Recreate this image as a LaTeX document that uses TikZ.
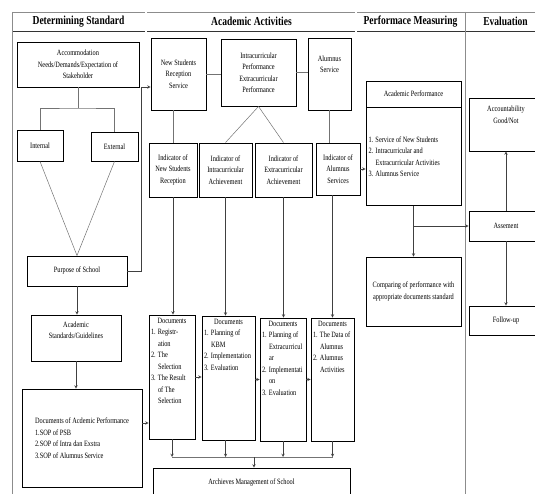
\documentclass[tikz,border=0pt]{standalone}
\usepackage{fontspec}
\setmainfont{Liberation Serif}[FakeStretch=0.78]
\usetikzlibrary{positioning, arrows}

\newcommand{\num}[1]{\makebox[7pt][l]{#1}}
\newcommand{\ind}{\hspace*{7pt}}

\begin{document}
\begin{tikzpicture}[
    x=1pt, y=-1pt, >=stealth,
    every node/.style={font=\fontsize{8.1}{11.5}\selectfont, inner sep=2pt},
    box/.style={draw, fill=white, line width=0.9pt, align=center},
    head/.style={font=\bfseries\fontsize{12.2}{14}\selectfont},
    lane/.style={draw=black!45, line width=0.6pt},
    link/.style={draw=black!55, line width=0.5pt},
    flow/.style={draw=black!75, line width=0.5pt, ->}
]

    \useasboundingbox (0,0) rectangle (535,494);
    \clip (0,0) rectangle (535,494);

    % lanes
    \draw[lane] (12,12) -- (535,12);
    \draw[lane, draw=black!80, line width=0.8pt] (12,31) -- (535,31);
    \draw[lane] (12,12) -- (12,494);
    \draw[lane, double, double distance=1.2pt] (146,12) -- (146,494);
    \draw[lane, double, double distance=1.2pt] (356,12) -- (356,494);
    \draw[lane] (465,12) -- (465,494);

    \node[head] (hstd) at (78.5,21.5) {Determining Standard};
    \node[head] (hact) at (251.5,21.5) {Academic Activities};
    \node[head] (hmeas) at (410.5,21.5) {Performace Measuring};
    \node[head] (heval) at (505.5,21.5) {Evaluation};

    % determining standard
    \node[box, minimum width=122, minimum height=45] (accom) at (78,64.5)
        {Accommodation\\Needs/Demands/Expectation of\\Stakeholder};
    \node[box, minimum width=46, minimum height=31] (internal) at (40,145.5) {Internal};
    \node[box, minimum width=47, minimum height=29] (external) at (114.5,146.5) {External};
    \node[box, minimum width=100, minimum height=30] (purpose) at (77,271) {Purpose of School};
    \node[box, minimum width=90, minimum height=46] (standards) at (76,338)
        {Academic\\Standards/Guidelines\\[4pt]};
    \node[box, minimum width=120, minimum height=98, align=left] (docsacad) at (82,438)
        {Documents of Acdemic Performance\\1.SOP of PSB\\2.SOP of Intra dan Exstra\\3.SOP of Alumnus Service};

    \coordinate (split) at (78,108);
    \coordinate (riser) at (141.5,0);

    \draw[link] (accom.south) -- (split);
    \draw[link] (internal.north) |- (split) -| (external.north);
    \draw[link] (internal.south) -- (purpose.north);
    \draw[link] (external.south) -- (purpose.north);
    \draw[flow] (purpose.south) -- (purpose.south |- standards.north);
    \draw[flow] (standards.south) -- (standards.south |- docsacad.north);

    % academic activities
    \node[box, minimum width=55, minimum height=72] (newstud) at (178.5,74)
        {New Students\\Reception\\Service};
    \node[box, minimum width=75, minimum height=67] (intra) at (258.5,72.5)
        {Intracurricular\\Performance\\Extracurricular\\Performance};
    \node[box, minimum width=43, minimum height=72] (alumnus) at (329.5,74)
        {Alumnus\\Service\\[8pt]};

    \draw[flow] (purpose.east) -- (purpose.east -| riser) |- ([yshift=-13pt]newstud.west);

    \node[box, minimum width=48, minimum height=54] (ind1) at (173,170)
        {Indicator of\\New Students\\Reception};
    \node[box, minimum width=53, minimum height=54] (ind2) at (225.5,170)
        {Indicator of\\Intracurricular\\Achievement};
    \node[box, minimum width=57, minimum height=54] (ind3) at (283.5,170)
        {Indicator of\\Extracurricular\\Achievement};
    \node[box, minimum width=44, minimum height=52] (ind4) at (338,169)
        {Indicator of\\Alumnus\\Services};

    \node[box, minimum width=46, minimum height=124] (doc1) at (172,377)
        {\parbox[c][118pt][t]{42pt}{\centering Documents\par\raggedright
        \num{1.}Registr-\\\ind ation\\\num{2.}The\\\ind Selection\\\num{3.}The Result\\\ind of The\\\ind Selection}};
    \node[box, minimum width=53, minimum height=124] (doc2) at (228.5,378)
        {\parbox[c][118pt][t]{49pt}{\centering Documents\par\raggedright
        \num{1.}Planning of\\\ind KBM\\\num{2.}Implementation\\\num{3.}Evaluation}};
    \node[box, minimum width=46, minimum height=123] (doc3) at (283,379.5)
        {\parbox[c][117pt][t]{42pt}{\centering Documents\par\raggedright
        \num{1.}Planning of\\\ind Extracurricul\\\ind ar\\\num{2.}Implementati\\\ind on\\\num{3.}Evaluation}};
    \node[box, minimum width=43, minimum height=123] (doc4) at (332.5,379.5)
        {\parbox[c][117pt][t]{39pt}{\centering Documents\par\raggedright
        \num{1.}The Data of\\\ind Alumnus\\\num{2.}Alumnus\\\ind Activities}};

    \node[box, minimum width=197, minimum height=29] (archieves) at (251.5,482.5)
        {Archieves Management of School};

    \coordinate (bus) at (254,457);

    \draw[link] (newstud.east) -- (newstud.east -| intra.west);
    \draw[link] (intra.east) -- (intra.east -| alumnus.west);
    \draw[link] (ind1.north |- newstud.south) -- (ind1.north);
    \draw[link] (intra.south) -- (ind2.north);
    \draw[link] (intra.south) -- (ind3.north);
    \draw[link] (alumnus.south) -- (alumnus.south |- ind4.north);

    \draw[flow] (ind1.south) -- (ind1.south |- doc1.north);
    \draw[flow] (ind2.south) -- (ind2.south |- doc2.north);
    \draw[flow] (ind3.south) -- (ind3.south |- doc3.north);
    \draw[flow] (doc4.north |- ind4.south) -- (doc4.north);

    \draw[flow] ([yshift=15pt]docsacad.east) -- ([yshift=15pt]docsacad.east -| doc1.west);
    \draw[flow] (doc1.east) -- (doc1.east -| doc2.west);
    \draw[flow] ([yshift=-1.5pt]doc2.east) -- ([yshift=-1.5pt]doc2.east -| doc3.west);
    \draw[flow] (doc3.east) -- (doc3.east -| doc4.west);

    \draw[link] (doc1.south |- bus) -- (doc4.south |- bus);
    \draw[flow] (doc1.south) -- (doc1.south |- bus);
    \draw[flow] (ind2.south |- doc2.south) -- (ind2.south |- bus);
    \draw[flow] (doc3.south) -- (doc3.south |- bus);
    \draw[flow] (doc4.south) -- (doc4.south |- bus);
    \draw[flow] (bus) -- (bus |- archieves.north);

    % performance measuring
    \node[box, minimum width=95, minimum height=26] (acadhead) at (413.5,94) {Academic Performance};
    \node[box, minimum width=95, minimum height=98, below=0pt of acadhead] (acadbody)
        {\parbox{90pt}{\num{1.}Service of New Students\\\num{2.}Intracurricular and\\\ind Extracurricular Activities\\\num{3.}Alumnus Service}};
    \node[box, minimum width=95, minimum height=69] (comparing) at (413.5,291.5)
        {Comparing of performance with\\appropriate documents standard};

    \draw[flow] (ind4.east) -- (ind4.east -| acadbody.west);
    \draw[flow] (acadbody.south) -- (comparing.north);

    % evaluation
    \node[box, minimum width=74, minimum height=53] (account) at (506,124.5)
        {Accountability\\Good/Not\\[8pt]};
    \node[box, minimum width=74, minimum height=30] (assement) at (506,226) {Assement};
    \node[box, minimum width=74, minimum height=29] (followup) at (506,320.5) {Follow-up};

    \draw[flow] (acadbody.south |- assement.west) -- (assement.west);
    \draw[flow] (assement.north) -- (account.south);
    \draw[flow] (assement.south) -- (followup.north);

\end{tikzpicture}
\end{document}
